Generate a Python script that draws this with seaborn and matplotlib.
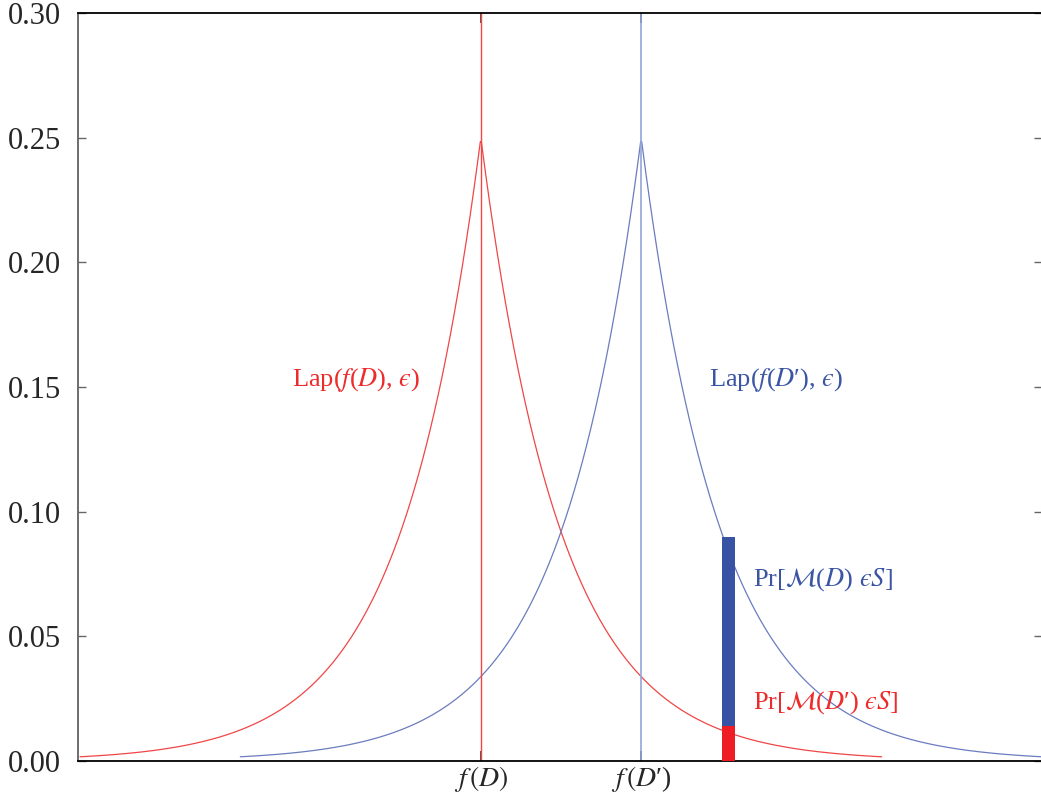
import numpy as np
import pandas as pd
import matplotlib
matplotlib.use("Agg")
import matplotlib.pyplot as plt
import seaborn as sns

# values
f_D = 0.0            # centre of Lap(f(D), eps)
f_Dp = 4.0           # centre of Lap(f(D'), eps)
lap_scale = 2.0      # peak = 1/(2b) = 0.25
red_range = (-10.0, 10.0)
blue_range = (-6.0, 14.0)
bar_x = 6.17
bar_width = 0.32
bar_blue = 0.09      # Pr[M(D) in S]
bar_red = 0.014      # Pr[M(D') in S]
y_ticks = [0.00, 0.05, 0.10, 0.15, 0.20, 0.25, 0.30]
x_ticks = [f_D, f_Dp]
x_ticklabels = [r"$f\,(D)$", r"$f\,(D$′)"]

red = "#f04646"
blue_line = "#6b7cbf"
blue_v = "#93a4d9"
bar_b = "#3953a4"
bar_r = "#ee1c25"
txt_red = "#ee2b2b"
txt_blue = "#3b55a5"


def laplace(c, lo, hi):
    x = np.linspace(lo, hi, 800)
    return pd.DataFrame({"x": x, "y": np.exp(-np.abs(x - c) / lap_scale) / (2 * lap_scale)})


sns.set_style("ticks")
plt.rcParams["font.family"] = ["Liberation Serif", "DejaVu Serif"]
plt.rcParams["mathtext.fontset"] = "stix"

fig = plt.figure(figsize=(10.41, 7.99), dpi=100)
ax = fig.add_axes([78 / 1041, 38 / 799, 964 / 1041, 748 / 799])

sns.lineplot(data=laplace(f_D, *red_range), x="x", y="y", color=red, lw=0.9, ax=ax)
sns.lineplot(data=laplace(f_Dp, *blue_range), x="x", y="y", color=blue_line, lw=0.9, ax=ax)

ax.axvline(f_D, color=red, lw=1.0)
ax.axvline(f_Dp, color=blue_v, lw=1.2)

ax.bar([bar_x], [bar_blue], width=bar_width, color=bar_b, linewidth=0, zorder=3)
ax.bar([bar_x], [bar_red], width=bar_width, color=bar_r, linewidth=0, zorder=4)

ax.text(-4.7, 0.153, "Lap($f$($D$), $\u03f5$)", color=txt_red,
        fontsize=19, va="center", ha="left")
ax.text(5.7, 0.153, "Lap($f$($D$′), $\u03f5$)", color=txt_blue,
        fontsize=19, va="center", ha="left")
ax.text(6.8, 0.0726, "Pr[$\\mathcal{M}$($D$) $\u03f5S$]", color=txt_blue,
        fontsize=19, va="center", ha="left")
ax.text(6.8, 0.0233, "Pr[$\\mathcal{M}$($D$′) $\u03f5S$]", color=txt_red,
        fontsize=19, va="center", ha="left")

ax.set_xlim(-10.05, 14)
ax.set_ylim(0, 0.30)
ax.set_yticks(y_ticks)
ax.set_yticklabels([f"{v:.2f}" for v in y_ticks])
ax.set_xticks(x_ticks)
ax.set_xticklabels(x_ticklabels)
ax.set_xlabel("")
ax.set_ylabel("")

ax.tick_params(axis="y", direction="in", length=6, width=1, color="#666666",
               labelsize=22, pad=12, right=True)
ax.tick_params(axis="x", direction="in", length=7, width=1.2, color="#333333",
               labelsize=20, pad=2, top=True)

for s in ["top", "bottom"]:
    ax.spines[s].set_color("black")
    ax.spines[s].set_linewidth(1.3)
ax.spines["left"].set_color("#555555")
ax.spines["left"].set_linewidth(1.2)
ax.spines["right"].set_visible(False)

fig.savefig("out.png", dpi=100)
